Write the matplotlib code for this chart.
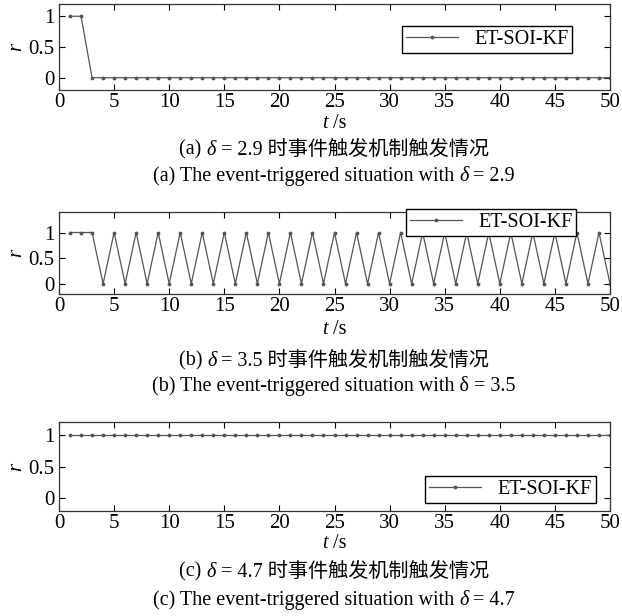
import matplotlib as mpl
mpl.use('Agg')

import matplotlib.pyplot as plt
from matplotlib.offsetbox import TextArea, HPacker, AnnotationBbox

# 字型：英文 Times 風格，中文用 Noto Sans CJK
plt.rcParams['font.family'] = ['Liberation Serif', 'Noto Sans CJK SC']
plt.rcParams['font.size'] = 14

# 時間 t (s)
t = [1, 2, 3, 4, 5, 6, 7, 8, 9, 10,
     11, 12, 13, 14, 15, 16, 17, 18, 19, 20,
     21, 22, 23, 24, 25, 26, 27, 28, 29, 30,
     31, 32, 33, 34, 35, 36, 37, 38, 39, 40,
     41, 42, 43, 44, 45, 46, 47, 48, 49, 50]

# (a) delta = 2.9
r_a = [1, 1, 0, 0, 0, 0, 0, 0, 0, 0,
       0, 0, 0, 0, 0, 0, 0, 0, 0, 0,
       0, 0, 0, 0, 0, 0, 0, 0, 0, 0,
       0, 0, 0, 0, 0, 0, 0, 0, 0, 0,
       0, 0, 0, 0, 0, 0, 0, 0, 0, 0]

# (b) delta = 3.5
r_b = [1, 1, 1, 0, 1, 0, 1, 0, 1, 0,
       1, 0, 1, 0, 1, 0, 1, 0, 1, 0,
       1, 0, 1, 0, 1, 0, 1, 0, 1, 0,
       1, 0, 1, 0, 1, 0, 1, 0, 1, 0,
       1, 0, 1, 0, 1, 0, 1, 0, 1, 0]

# (c) delta = 4.7
r_c = [1, 1, 1, 1, 1, 1, 1, 1, 1, 1,
       1, 1, 1, 1, 1, 1, 1, 1, 1, 1,
       1, 1, 1, 1, 1, 1, 1, 1, 1, 1,
       1, 1, 1, 1, 1, 1, 1, 1, 1, 1,
       1, 1, 1, 1, 1, 1, 1, 1, 1, 1]

series_label = 'ET-SOI-KF'
x_ticks = [0, 5, 10, 15, 20, 25, 30, 35, 40, 45, 50]
y_ticks = [0, 0.5, 1]
y_tick_labels = ['0', '0.5', '1']

W, H = 622, 616
fig = plt.figure(figsize=(W / 100, H / 100), dpi=100)


def px_axes(left, top, right, bottom):
    # 以像素座標建立子圖
    return fig.add_axes([left / W, 1 - bottom / H, (right - left) / W, (bottom - top) / H])


def caption(y, parts, size=14.5):
    # parts: [(文字, 是否斜體), ...]，置中排成一行
    boxes = []
    for txt, it in parts:
        props = dict(fontsize=size, family=['Liberation Serif', 'Noto Sans CJK SC'],
                     style='italic' if it else 'normal', color='black')
        boxes.append(TextArea(txt, textprops=props))
    pack = HPacker(children=boxes, sep=0, pad=0, align='baseline')
    ab = AnnotationBbox(pack, (334 / W, 1 - y / H), xycoords='figure fraction',
                        frameon=False, box_alignment=(0.5, 0.5), pad=0)
    fig.add_artist(ab)


def style_axes(ax, ylim):
    ax.set_xlim(0, 50)
    ax.set_ylim(ylim)
    ax.set_xticks(x_ticks)
    ax.set_yticks(y_ticks)
    ax.set_yticklabels(y_tick_labels)
    ax.tick_params(direction='in', top=True, right=True, length=4, width=0.8,
                   labelsize=15, pad=3)
    ax.tick_params(axis='x', pad=2)
    for s in ax.spines.values():
        s.set_linewidth(0.9)
        s.set_color('#333333')
    ax.set_ylabel('r', style='italic', fontsize=15, labelpad=2)


def draw(ax, r):
    ax.plot(t, r, color='#555555', lw=0.9, marker='.', ms=3.5, label=series_label)


def add_legend(ax, anchor):
    ax.legend(loc='upper left', bbox_to_anchor=anchor, fancybox=False,
              edgecolor='black', framealpha=1, fontsize=14.5, handlelength=2.6,
              borderpad=0.2, borderaxespad=0)


# (a)
ax1 = px_axes(59, 4, 610, 90)
draw(ax1, r_a)
style_axes(ax1, (-0.2, 1.2))
add_legend(ax1, (0.622, 0.744))

# (b)
ax2 = px_axes(59, 212, 610, 294)
draw(ax2, r_b)
style_axes(ax2, (-0.2, 1.4))
add_legend(ax2, (0.629, 1.033))

# (c)
ax3 = px_axes(59, 422, 610, 511)
draw(ax3, r_c)
style_axes(ax3, (-0.2, 1.2))
add_legend(ax3, (0.664, 0.391))

# 軸標題與圖說
caption(124, [('t', True), (' /s', False)])
caption(150, [('(a) ', False), ('δ', True), (' = 2.9 时事件触发机制触发情况', False)])
caption(176, [('(a) The event-triggered situation with ', False), ('δ', True), (' = 2.9', False)])

caption(329, [('t', True), (' /s', False)])
caption(361, [('(b) ', False), ('δ', True), (' = 3.5 时事件触发机制触发情况', False)])
caption(386, [('(b) The event-triggered situation with δ = 3.5', False)])

caption(543, [('t', True), (' /s', False)])
caption(572, [('(c) ', False), ('δ', True), (' = 4.7 时事件触发机制触发情况', False)])
caption(600, [('(c) The event-triggered situation with ', False), ('δ', True), (' = 4.7', False)])

plt.savefig('out.png', dpi=100)
plt.close()
